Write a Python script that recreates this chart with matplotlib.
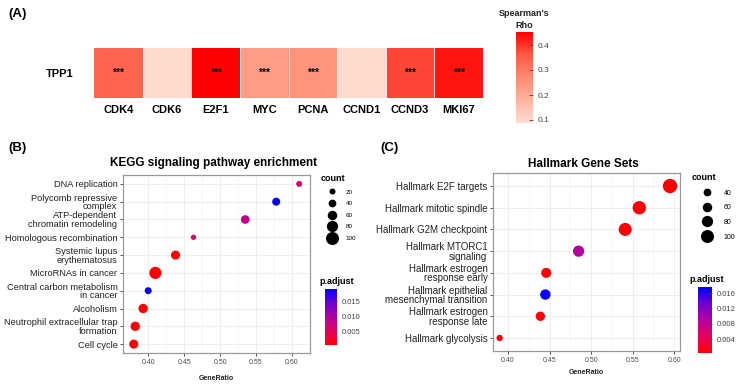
import numpy as np
import matplotlib
matplotlib.use('Agg')
import matplotlib.pyplot as plt
from matplotlib.colors import LinearSegmentedColormap
from matplotlib.lines import Line2D

plt.rcParams['font.family'] = ['Liberation Sans', 'DejaVu Sans']

# ---- data ----
genes = ['CDK4', 'CDK6', 'E2F1', 'MYC', 'PCNA', 'CCND1', 'CCND3', 'MKI67']
rho = [0.34, 0.09, 0.45, 0.23, 0.25, 0.09, 0.38, 0.43]
sig = ['***', '', '***', '***', '***', '', '***', '***']

kegg_terms = ['DNA replication', 'Polycomb repressive\ncomplex', 'ATP-dependent\nchromatin remodeling',
              'Homologous recombination', 'Systemic lupus\nerythematosus', 'MicroRNAs in cancer',
              'Central carbon metabolism\nin cancer', 'Alcoholism', 'Neutrophil extracellular trap\nformation',
              'Cell cycle']
kegg_ratio = [0.610, 0.578, 0.535, 0.463, 0.438, 0.410, 0.400, 0.393, 0.382, 0.380]
kegg_count = [20, 43, 50, 12, 55, 90, 31, 58, 58, 55]
kegg_padj = [0.0062, 0.0188, 0.0085, 0.0060, 0.0008, 0.0007, 0.0188, 0.0007, 0.0006, 0.0006]

hall_terms = ['Hallmark E2F targets', 'Hallmark mitotic spindle', 'Hallmark G2M checkpoint',
              'Hallmark MTORC1\nsignaling', 'Hallmark estrogen\nresponse early',
              'Hallmark epithelial\nmesenchymal transition', 'Hallmark estrogen\nresponse late',
              'Hallmark glycolysis']
hall_ratio = [0.595, 0.558, 0.541, 0.485, 0.446, 0.445, 0.439, 0.390]
hall_count = [115, 104, 100, 80, 66, 70, 58, 24]
hall_padj = [0.0006, 0.0006, 0.0006, 0.0090, 0.0006, 0.0170, 0.0006, 0.0006]

W, H = 740, 388
fig = plt.figure(figsize=(W / 100, H / 100), dpi=100)


def box(x0, y0, x1, y1):
    return [x0 / W, 1 - y1 / H, (x1 - x0) / W, (y1 - y0) / H]


def fx(x):
    return x / W


def fy(y):
    return 1 - y / H


def msize(c):
    d = 4.25 + 0.0875 * np.asarray(c)
    return (0.72 * d) ** 2


heat_cmap = LinearSegmentedColormap.from_list('rho', ['#FFDCD0', '#FFB49F', '#FF8A72', '#FF5A45', '#FF0000'])
p_cmap = LinearSegmentedColormap.from_list('padj', ['#FF0000', '#E6005E', '#B400A0', '#6E00D2', '#0000FF'])

# ---- (A) heatmap ----
fig.text(fx(8), fy(14), '(A)', fontsize=9.5, fontweight='bold', va='center')
ax = fig.add_axes(box(94, 48, 483, 98))
im = ax.imshow(np.array([rho]), cmap=heat_cmap, vmin=0.088, vmax=0.452, aspect='auto')
for i in range(len(genes)):
    ax.axvline(i + 0.5, color='white', lw=0.6)
    if sig[i]:
        ax.text(i, 0, sig[i], ha='center', va='center', fontsize=7.5, fontweight='bold')
ax.set_xticks(range(len(genes)))
ax.set_xticklabels(genes, fontsize=8, fontweight='bold')
ax.set_yticks([0])
ax.set_yticklabels(['TPP1'], fontsize=8, fontweight='bold')
ax.tick_params(length=0, pad=5)
ax.tick_params(axis='y', pad=15)
for s in ax.spines.values():
    s.set_visible(False)

cax = fig.add_axes(box(516, 32, 533, 123))
cb = fig.colorbar(im, cax=cax)
cb.set_ticks([0.1, 0.2, 0.3, 0.4])
cb.outline.set_visible(False)
cax.tick_params(labelsize=6, colors='#444444', length=3, width=0.6, direction='in')
for t in cax.get_yticklines():
    t.set_color('white')
fig.text(fx(524), fy(19.5), "Spearman's\nRho", fontsize=6.5, fontweight='bold', ha='center', va='center',
         color='#222222', linespacing=1.35)


def dotplot(rect, terms, ratio, count, padj, pv, xlim, ylim, xticks, fs, title, title_x, title_y, glab_x, glab_y):
    ax = fig.add_axes(box(*rect))
    y = np.arange(len(terms))
    ax.set_xlim(*xlim)
    ax.set_ylim(*ylim)
    ax.set_xticks(xticks)
    ax.set_xticks([(a + b) / 2 for a, b in zip(xticks[:-1], xticks[1:])], minor=True)
    ax.set_xticklabels(['%.2f' % v for v in xticks], fontsize=5, color='#4d4d4d')
    ax.set_yticks(y)
    ax.set_yticklabels(terms, fontsize=fs, color='#222222', linespacing=0.95)
    ax.grid(True, which='major', color='#ebebeb', lw=0.6)
    ax.grid(True, which='minor', axis='x', color='#f4f4f4', lw=0.4)
    ax.set_axisbelow(True)
    ax.tick_params(axis='both', length=2.5, width=0.6, color='#333333', pad=1.5)
    ax.tick_params(axis='x', which='minor', length=0)
    for s in ax.spines.values():
        s.set_color('#9a9a9a')
        s.set_linewidth(0.9)
    sc = ax.scatter(ratio, y, s=msize(count), c=padj, cmap=p_cmap, vmin=pv[0], vmax=pv[1],
                    edgecolors='none', zorder=3)
    fig.text(fx(title_x), fy(title_y), title, fontsize=8.5, fontweight='bold', ha='center', va='center')
    fig.text(fx(glab_x), fy(glab_y), 'GeneRatio', fontsize=5, fontweight='bold', ha='center', va='center',
             color='#222222')
    return ax, sc


# ---- (B) KEGG ----
fig.text(fx(8), fy(148), '(B)', fontsize=9.5, fontweight='bold', va='center')
axb, scb = dotplot((123, 175, 310, 353), kegg_terms, kegg_ratio, kegg_count, kegg_padj, (0.0005, 0.019),
                   (0.365, 0.625), (9.5, -0.5), [0.40, 0.45, 0.50, 0.55, 0.60], 6.7,
                   'KEGG signaling pathway enrichment', 214, 163, 216, 378)
hb = [Line2D([], [], ls='', marker='o', color='black', markersize=np.sqrt(msize(c)), markeredgewidth=0)
      for c in [20, 40, 60, 80, 100]]
fig.legend(hb, ['20', '40', '60', '80', '100'], loc='upper left', bbox_to_anchor=(fx(321), fy(174)),
           frameon=False, title='count', fontsize=4.5, title_fontproperties={'weight': 'bold', 'size': 6.5},
           labelspacing=1.0, handlelength=3.6, handletextpad=0.3, alignment='left',
           borderaxespad=0, borderpad=0)
fig.text(fx(319), fy(282), 'p.adjust', fontsize=6.5, fontweight='bold', va='center')
cbx = fig.add_axes(box(325, 289, 337, 345))
cbb = fig.colorbar(scb, cax=cbx)
cbb.set_ticks([0.005, 0.010, 0.015])
cbb.outline.set_visible(False)
cbx.tick_params(labelsize=5.5, colors='#444444', length=2.5, width=0.6, direction='in')
for t in cbx.get_yticklines():
    t.set_color('white')

# ---- (C) Hallmark ----
fig.text(fx(380), fy(148), '(C)', fontsize=9.5, fontweight='bold', va='center')
axc, scc = dotplot((493, 173, 680, 351), hall_terms, hall_ratio, hall_count, hall_padj, (0.00035, 0.0176),
                   (0.382, 0.607), (7.6, -0.6), [0.40, 0.45, 0.50, 0.55, 0.60], 7,
                   'Hallmark Gene Sets', 583, 164, 586, 373)
hc = [Line2D([], [], ls='', marker='o', color='black', markersize=np.sqrt(msize(c)), markeredgewidth=0)
      for c in [40, 60, 80, 100]]
fig.legend(hc, ['40', '60', '80', '100'], loc='upper left', bbox_to_anchor=(fx(692), fy(173)),
           frameon=False, title='count', fontsize=5, title_fontproperties={'weight': 'bold', 'size': 6.5},
           labelspacing=1.1, handlelength=4.4, handletextpad=0.2, alignment='left',
           borderaxespad=0, borderpad=0)
fig.text(fx(689), fy(279), 'p.adjust', fontsize=6.5, fontweight='bold', va='center')
ccx = fig.add_axes(box(698, 287, 712, 353))
cbc = fig.colorbar(scc, cax=ccx)
cbc.set_ticks([0.004, 0.008, 0.012, 0.016])
cbc.outline.set_visible(False)
ccx.tick_params(labelsize=5.5, colors='#444444', length=2.5, width=0.6, direction='in')
for t in ccx.get_yticklines():
    t.set_color('white')

fig.savefig('out.png', dpi=100)
